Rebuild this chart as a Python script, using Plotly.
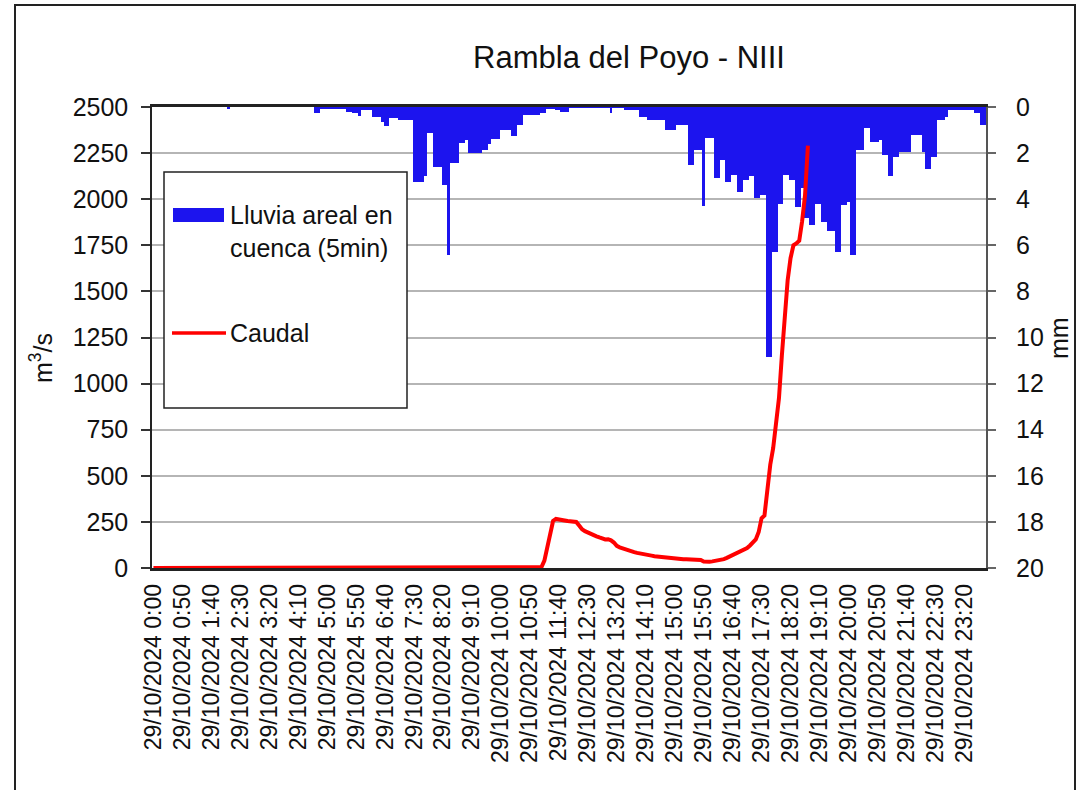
import plotly.graph_objects as go

# ---- data ----
times = [f"29/10/2024 {h}:{m:02d}" for h in range(24) for m in range(0, 60, 5)]

lluvia_mm = [
    0, 0, 0, 0, 0, 0, 0, 0, 0, 0, 0, 0,                                  # 0h
    0, 0, 0, 0, 0, 0, 0, 0, 0, 0, 0, 0,                                  # 1h
    0, 0, 0.05, 0, 0, 0, 0, 0, 0, 0, 0, 0,                               # 2h
    0, 0, 0, 0, 0, 0, 0, 0, 0, 0, 0, 0,                                  # 3h
    0, 0, 0, 0, 0, 0, 0, 0, 0.28, 0.28, 0.06, 0.06,                      # 4h
    0.06, 0.06, 0.06, 0.06, 0.06, 0.06, 0.06, 0.2, 0.2, 0.28, 0.28, 0.4, # 5h
    0.15, 0.15, 0.15, 0.15, 0.43, 0.43, 0.43, 0.65, 0.82, 0.82, 0.48, 0.48,  # 6h
    0.48, 0.56, 0.56, 0.56, 0.56, 0.56, 3.25, 3.25, 3.25, 3.25, 3.0, 1.13,   # 7h
    1.13, 2.6, 2.6, 2.6, 3.4, 3.4, 6.4, 2.43, 2.43, 2.43, 1.56, 1.56,        # 8h
    1.43, 2.0, 2.0, 2.0, 2.0, 2.0, 1.87, 1.87, 1.6, 1.39, 1.39, 1.39,        # 9h
    1.0, 1.0, 1.0, 1.0, 1.26, 1.26, 0.78, 0.78, 0.35, 0.35, 0.35, 0.35,      # 10h
    0.35, 0.35, 0.26, 0.26, 0.1, 0.1, 0.1, 0.13, 0.13, 0.2, 0.2, 0.2,        # 11h
    0.04, 0.04, 0.04, 0.04, 0.04, 0.04, 0.04, 0.04, 0.04, 0.04, 0.04, 0.04,  # 12h
    0.04, 0.04, 0.25, 0.03, 0.03, 0.03, 0.03, 0.14, 0.14, 0.14, 0.14, 0.14,  # 13h
    0.43, 0.43, 0.43, 0.56, 0.56, 0.56, 0.56, 0.56, 0.56, 1.0, 1.0, 1.0,     # 14h
    1.0, 0.78, 0.78, 0.78, 0.78, 2.5, 2.5, 1.87, 1.87, 1.87, 4.3, 1.35,      # 15h
    1.35, 1.35, 3.1, 3.1, 2.3, 2.3, 3.25, 3.25, 2.95, 2.95, 3.7, 3.7,        # 16h
    3.17, 3.17, 3.0, 3.0, 3.95, 3.95, 3.8, 3.8, 10.85, 10.85, 6.3, 6.3,      # 17h
    4.2, 4.2, 2.95, 2.95, 3.17, 3.17, 4.35, 4.35, 3.5, 4.8, 4.8, 5.1,        # 18h
    5.1, 4.2, 4.2, 5.0, 5.0, 5.4, 5.4, 5.4, 6.3, 6.3, 4.25, 4.25,            # 19h
    4.1, 6.4, 6.4, 1.87, 1.87, 1.87, 0.9, 0.9, 1.5, 1.5, 1.5, 1.43,          # 20h
    2.1, 2.1, 3.0, 3.0, 2.17, 2.17, 1.95, 1.95, 1.95, 1.95, 1.2, 1.2,        # 21h
    1.2, 1.2, 1.95, 2.7, 2.7, 2.17, 2.17, 0.56, 0.56, 0.56, 0.43, 0.13,      # 22h
    0.13, 0.13, 0.13, 0.13, 0.13, 0.13, 0.13, 0.13, 0.26, 0.26, 0.78, 0.78,  # 23h
]

caudal_m3s = (
    [0] * 132 + [
        0, 0, 5, 40, 114, 200, 255, 266, 265, 262, 258, 255,                 # 11h
        255, 252, 250, 230, 210, 200, 192, 185, 178, 172, 166, 160,          # 12h
        155, 156, 150, 138, 120, 112, 106, 100, 95, 90, 86, 82,              # 13h
        78, 75, 72, 70, 67, 64, 62, 59, 57, 55, 54, 52,                      # 14h
        51, 50, 49, 48, 47, 46, 45, 45, 44, 43, 35, 33,                      # 15h
        34, 36, 38, 40, 44, 48, 55, 62, 70, 76, 82, 90,                      # 16h
        98, 108, 122, 138, 155, 195, 270, 285, 440, 560, 650, 780,           # 17h
        920, 1150, 1380, 1560, 1680, 1750, 1760, 1775, 1880, 2020, 2290, None,  # 18h
    ] + [None] * 60
)

tick_labels = times[::10]
left_ticks = list(range(0, 2501, 250))
right_ticks = list(range(0, 21, 2))

FONT = "Liberation Sans, Arial, sans-serif"
TXT = "#111111"

# plot-area pixel geometry (for paper-coordinate helpers)
L, R, T, B = 152, 986, 107, 568
W, H = 1077, 790


def px(x):
    return (x - L) / (R - L)


def py(y):
    return (B - y) / (B - T)


fig = go.Figure()

fig.add_trace(go.Bar(
    x=times, y=lluvia_mm, yaxis="y", name="Lluvia areal en cuenca (5min)",
    marker=dict(color="#1c14ee", line=dict(width=0)), showlegend=False,
))
fig.add_trace(go.Scatter(
    x=times, y=caudal_m3s, yaxis="y2", mode="lines", name="Caudal",
    line=dict(color="#ff0000", width=4), showlegend=False, connectgaps=False,
))

fig.update_layout(
    width=W, height=H,
    margin=dict(l=L, r=W - R, t=T, b=H - B, pad=0, autoexpand=False),
    paper_bgcolor="white", plot_bgcolor="white",
    font=dict(family=FONT, size=25, color=TXT),
    bargap=0,
    title=dict(text="Rambla del Poyo - NIII", x=629 / W, xref="container", xanchor="center",
               y=1 - 57 / H, yref="container", yanchor="middle",
               font=dict(family=FONT, size=31, color=TXT)),
    xaxis=dict(
        type="category", categoryorder="array", categoryarray=times,
        range=[-0.5, len(times) - 0.5], automargin=False,
        tickmode="array", tickvals=tick_labels, ticktext=tick_labels,
        tickangle=-90, ticks="", showgrid=False,
        showline=True, linecolor="#222222", linewidth=2.5, mirror=True,
        tickfont=dict(family=FONT, size=23, color=TXT),
        ticklabelstandoff=4,
    ),
    yaxis=dict(
        range=[20, 0], side="right", tickmode="array", tickvals=right_ticks,
        automargin=False,
        ticks="outside", ticklen=8, tickcolor="#666666", tickwidth=1.5,
        showgrid=True, gridcolor="#b5b5b5", gridwidth=2,
        showline=True, linecolor="#555555", linewidth=2,
        zeroline=False, tickfont=dict(family=FONT, size=25, color=TXT),
        ticklabelstandoff=15,
    ),
    yaxis2=dict(
        range=[0, 2500], side="left", overlaying="y", tickmode="array", tickvals=left_ticks,
        automargin=False,
        ticks="outside", ticklen=9, tickcolor="#333333", tickwidth=1.5,
        showgrid=False, showline=True, linecolor="#222222", linewidth=1.5,
        zeroline=False, tickfont=dict(family=FONT, size=25, color=TXT),
        ticklabelstandoff=8,
    ),
)

# axis titles
fig.add_annotation(text="m<sup>3</sup>/s", xref="paper", yref="paper", x=px(41), y=py(358),
                   textangle=-90, showarrow=False, font=dict(size=25, color=TXT),
                   xanchor="center", yanchor="middle")
fig.add_annotation(text="mm", xref="paper", yref="paper", x=px(1059), y=py(338),
                   textangle=-90, showarrow=False, font=dict(size=25, color=TXT),
                   xanchor="center", yanchor="middle")

# legend box (drawn to match original layout)
fig.add_shape(type="rect", xref="paper", yref="paper", x0=px(164), x1=px(407), y0=py(408), y1=py(172),
              line=dict(color="#222222", width=1.5), fillcolor="white", layer="above")
fig.add_shape(type="rect", xref="paper", yref="paper", x0=px(173), x1=px(224), y0=py(222), y1=py(208),
              line=dict(width=0), fillcolor="#1c14ee", layer="above")
fig.add_shape(type="line", xref="paper", yref="paper", x0=px(172), x1=px(226), y0=py(333), y1=py(333),
              line=dict(color="#ff0000", width=3.5), layer="above")
fig.add_annotation(text="Lluvia areal en<br>cuenca (5min)", xref="paper", yref="paper",
                   x=px(228), y=py(231), xanchor="left", yanchor="middle", align="left",
                   showarrow=False, font=dict(size=25, color=TXT))
fig.add_annotation(text="Caudal", xref="paper", yref="paper",
                   x=px(228), y=py(333), xanchor="left", yanchor="middle", align="left",
                   showarrow=False, font=dict(size=25, color=TXT))

# outer chart border
fig.add_shape(type="rect", xref="paper", yref="paper", x0=px(15), x1=px(1075), y0=py(800), y1=py(5),
              line=dict(color="#222222", width=2), fillcolor="rgba(0,0,0,0)", layer="below")

fig.write_html("out.html",
               config={"displayModeBar": False},
               post_script="document.body.style.margin='0px';document.body.style.overflow='hidden';")
